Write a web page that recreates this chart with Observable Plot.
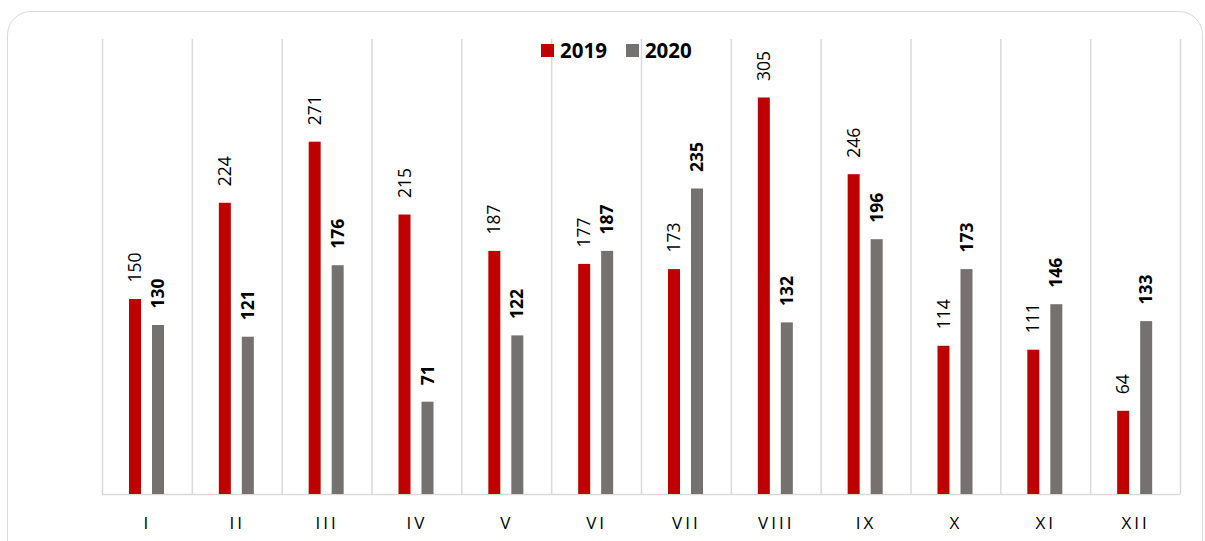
<!DOCTYPE html>
<html>
<head>
<meta charset="utf-8">
<script src="https://cdn.jsdelivr.net/npm/d3@7"></script>
<script src="https://cdn.jsdelivr.net/npm/@observablehq/plot@0.6"></script>
<style>
  body { margin: 0; background: #fff; }
  #wrap { position: relative; width: 1205px; height: 541px; overflow: hidden; font-family: "Open Sans", sans-serif; }
  #border { position: absolute; left: 7px; top: 11px; width: 1196px; height: 580px; border: 1.5px solid #d9d9d9; border-radius: 24px; box-sizing: border-box; }
  #legend { position: absolute; left: 541px; top: 36px; display: flex; align-items: center; font-weight: bold; font-size: 20.5px; color: #000; }
  #legend .sw { width: 13px; height: 13px; display: inline-block; margin-right: 6px; }
  #legend .item { display: flex; align-items: center; margin-right: 19px; }
  #chart { position: absolute; left: 0; top: 0; }
  #chart svg [aria-label="x-axis tick label"] text { letter-spacing: 3px; }
</style>
</head>
<body>
<div id="wrap">
  <div id="border"></div>
  <div id="chart"></div>
  <div id="legend"></div>
</div>
<script>
const months = ["I","II","III","IV","V","VI","VII","VIII","IX","X","XI","XII"];
const values2019 = [150,224,271,215,187,177,173,305,246,114,111,64];
const values2020 = [130,121,176,71,122,187,235,132,196,173,146,133];
const series = ["2019","2020"];
const colors = ["#C00000","#767171"];

const d19 = months.map((m,i) => ({month: m, value: values2019[i]}));
const d20 = months.map((m,i) => ({month: m, value: values2020[i]}));

const step = (1205 - 102 - 25) / months.length;

const chart = Plot.plot({
  width: 1205,
  height: 541,
  marginLeft: 102,
  marginRight: 25,
  marginTop: 39,
  marginBottom: 47,
  style: {fontFamily: "'Open Sans', sans-serif", background: "transparent", overflow: "visible"},
  x: {domain: months, padding: 0, round: false, label: null},
  y: {domain: [0, 350], axis: null},
  marks: [
    Plot.ruleX(months, {x: d => d, dx: -step/2, stroke: "#d9d9d9", strokeWidth: 1.5}),
    Plot.ruleX([months[months.length-1]], {x: d => d, dx: step/2, stroke: "#d9d9d9", strokeWidth: 1.5}),
    Plot.ruleY([0], {stroke: "#d9d9d9", strokeWidth: 1.5}),
    Plot.barY(d19, {x: "month", y: "value", fill: colors[0], insetLeft: 27, insetRight: step - 39}),
    Plot.barY(d20, {x: "month", y: "value", fill: colors[1], insetLeft: 50, insetRight: step - 62}),
    Plot.text(d19, {x: "month", y: "value", text: d => String(d.value), rotate: -90, textAnchor: "start", dx: -11.9, dy: -17, fontSize: 17.5, fill: "#000"}),
    Plot.text(d20, {x: "month", y: "value", text: d => String(d.value), rotate: -90, textAnchor: "start", dx: 11.1, dy: -17, fontSize: 17.5, fontWeight: "bold", fill: "#000"}),
    Plot.axisX({tickSize: 0, tickPadding: 22, fontSize: 17, label: null, color: "#000"})
  ]
});
document.getElementById("chart").appendChild(chart);

const legend = document.getElementById("legend");
series.forEach((s, i) => {
  const item = document.createElement("span");
  item.className = "item";
  const sw = document.createElement("span");
  sw.className = "sw";
  sw.style.background = colors[i];
  item.appendChild(sw);
  item.appendChild(document.createTextNode(s));
  legend.appendChild(item);
});
</script>
</body>
</html>
